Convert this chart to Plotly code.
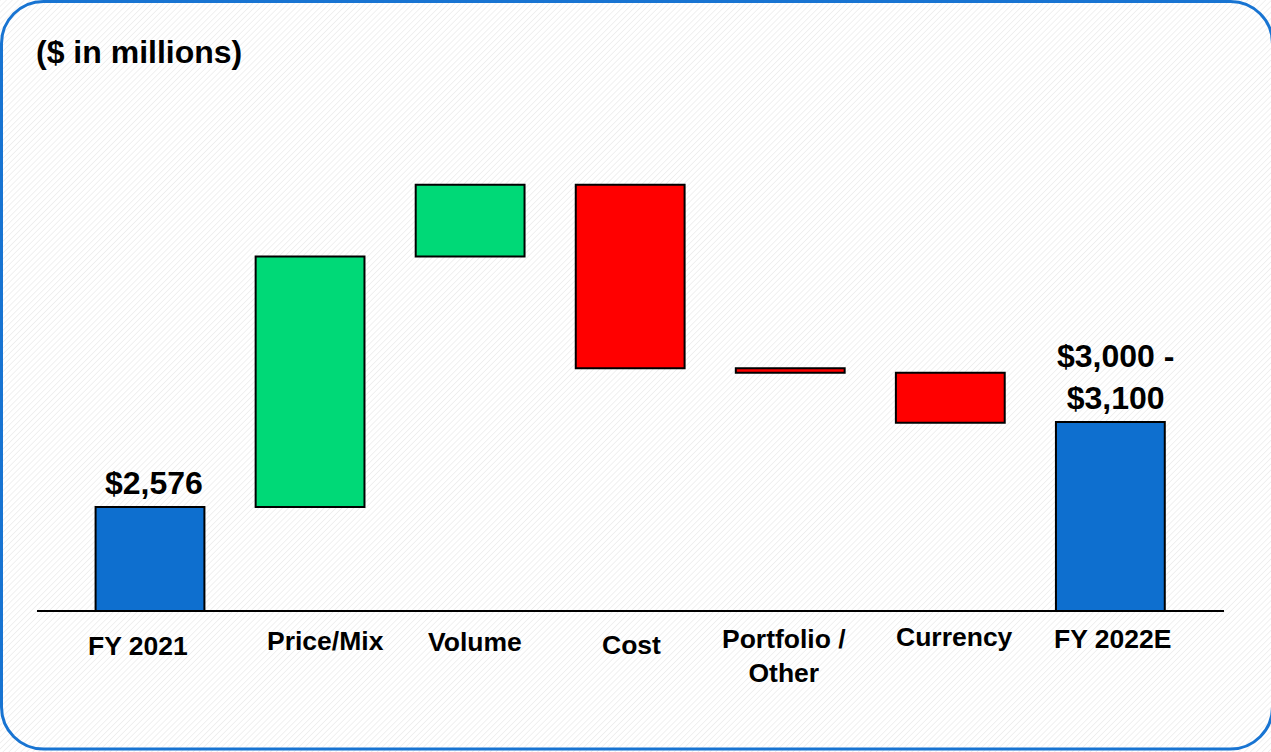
import base64
import plotly.graph_objects as go

# ---------------- data ----------------
categories = ["FY 2021", "Price/Mix", "Volume", "Cost", "Portfolio /<br>Other", "Currency", "FY 2022E"]
measures = ["absolute", "relative", "relative", "relative", "relative", "relative", "absolute"]
values = [2576, 1400, 400, -1025, -25, -280, 3050]
value_labels = ["$2,576", "", "", "", "", "", "$3,000 -<br>$3,100"]
title_text = "($ in millions)"

# ---------------- layout constants ----------------
W, H = 1271, 752
L, R, T, B = 37, 47, 100, 142
PW, PH = W - L - R, H - T - B
Y_MIN, Y_MAX = 2000, 4850

GREEN = "#00D977"
RED = "#FF0000"
BLUE = "#0E6FCF"
FONT = "Liberation Sans, Arial, sans-serif"

# label placement (pixels): vertical centers and horizontal nudges
label_center_px = [646, 641, 642, 645, 656, 637, 639]
label_xshift_px = [-12.5, 15.5, 5, 1, -6, 4, 2]
value_xshift_px = [3.5, 0, 0, 0, 0, 0, 5]


def py(ypx):
    return (T + PH - ypx) / PH


# running tops for value labels
tops = []
run = 0
for m, v in zip(measures, values):
    if m == "absolute":
        run = v
        tops.append(v)
    else:
        prev = run
        run += v
        tops.append(max(prev, run))

fig = go.Figure()
fig.add_trace(go.Waterfall(
    x=list(range(len(categories))),
    y=values,
    measure=measures,
    width=0.68,
    connector=dict(visible=False),
    increasing=dict(marker=dict(color=GREEN, line=dict(color="black", width=2))),
    decreasing=dict(marker=dict(color=RED, line=dict(color="black", width=2))),
    totals=dict(marker=dict(color=BLUE, line=dict(color="black", width=2))),
    hoverinfo="skip",
    showlegend=False,
))

annotations = []
for i, (cat, cy, dx) in enumerate(zip(categories, label_center_px, label_xshift_px)):
    annotations.append(dict(
        x=i, xref="x", y=py(cy), yref="paper", text=f"<b>{cat}</b>",
        showarrow=False, yanchor="middle", xanchor="center", xshift=dx,
        font=dict(family=FONT, size=26.5, color="black"),
    ))
for i, (lab, top, dx) in enumerate(zip(value_labels, tops, value_xshift_px)):
    if lab:
        annotations.append(dict(
            x=i, xref="x", y=top, yref="y", text=f"<b>{lab}</b>",
            showarrow=False, yanchor="bottom", xanchor="center", yshift=4, xshift=dx,
            font=dict(family=FONT, size=32, color="black"),
        ))
annotations.append(dict(
    x=0, xref="paper", y=py(52), yref="paper", text=f"<b>{title_text}</b>",
    showarrow=False, xanchor="left", yanchor="middle", xshift=-3,
    font=dict(family=FONT, size=32, color="black"),
))

# background hatch + rounded frame as an inline SVG image
svg = f'''<svg xmlns="http://www.w3.org/2000/svg" width="{W}" height="{H}" viewBox="0 0 {W} {H}">
<defs><pattern id="p" width="4.2" height="4.2" patternUnits="userSpaceOnUse" patternTransform="rotate(45)">
<line x1="0" y1="0" x2="0" y2="4.2" stroke="#EDEDED" stroke-width="1.6"/></pattern></defs>
<rect x="0" y="0" width="{W}" height="{H}" fill="white"/>
<rect x="0" y="0" width="{W}" height="{H}" fill="url(#p)"/>
<rect x="1.5" y="1.5" width="1271" height="747.5" rx="42" ry="42" fill="none" stroke="#1874D2" stroke-width="3"/>
</svg>'''
src = "data:image/svg+xml;base64," + base64.b64encode(svg.encode()).decode()

fig.add_layout_image(dict(
    source=src, xref="paper", yref="paper",
    x=-L / PW, y=1 + T / PH, sizex=W / PW, sizey=H / PH,
    xanchor="left", yanchor="top", sizing="stretch", layer="below",
))

fig.update_layout(
    width=W, height=H,
    margin=dict(l=L, r=R, t=T, b=B, pad=0),
    paper_bgcolor="white",
    plot_bgcolor="rgba(0,0,0,0)",
    annotations=annotations,
    xaxis=dict(range=[-0.706, 6.71], showline=True, linecolor="black", linewidth=1.5,
               showticklabels=False, showgrid=False, zeroline=False, ticks="", fixedrange=True),
    yaxis=dict(range=[Y_MIN, Y_MAX], visible=False, showgrid=False, zeroline=False, fixedrange=True),
    showlegend=False,
)

fig.write_html("out.html", config={"displayModeBar": False})
